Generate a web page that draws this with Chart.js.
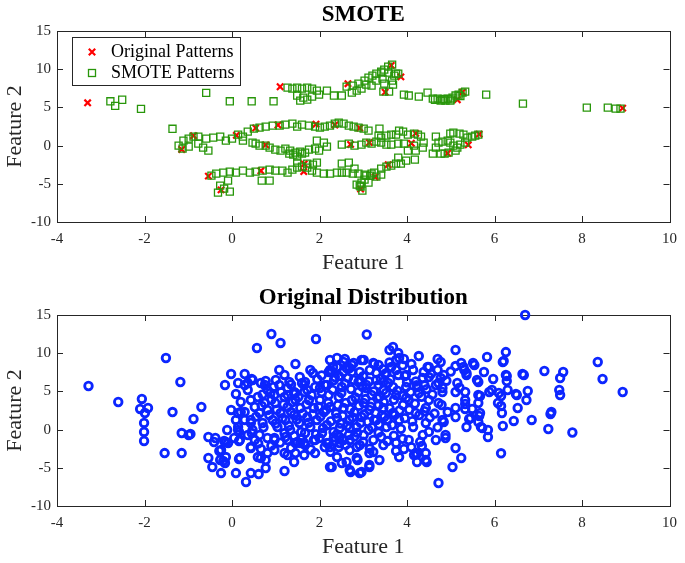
<!DOCTYPE html>
<html>
<head>
<meta charset="utf-8">
<script src="https://cdn.jsdelivr.net/npm/chart.js@4.4.0/dist/chart.umd.min.js"></script>
<style>
  html, body { margin: 0; padding: 0; background: #fff; }
  #wrap { position: relative; width: 685px; height: 563px; }
  canvas { position: absolute; left: 0; }
  #smoteChart { top: 0; }
  #origChart { top: 282px; }
</style>
</head>
<body>
<div id="wrap">
  <canvas id="smoteChart" width="685" height="282"></canvas>
  <canvas id="origChart" width="685" height="281"></canvas>
</div>
<script>
// tick labels (same for both plots)
const xTicks = [-4, -2, 0, 2, 4, 6, 8, 10];
const yTicks = [-10, -5, 0, 5, 10, 15];

// top plot: original minority samples
const originalPatterns = [
  [-3.3,5.6],[1.1,7.7],[2.65,8.1],[3.64,10.5],[3.86,9.0],[3.5,7.0],[5.27,7.0],[5.15,6.0],[8.93,4.9],
  [-1.15,-0.5],[-0.88,1.3],[0.1,1.35],[0.54,2.3],[1.05,2.7],[1.92,2.8],[2.35,2.7],[2.92,2.3],[0.77,0.1],
  [2.71,0.15],[3.14,0.4],[4.2,1.6],[4.1,0.3],[4.93,-1.0],[5.4,0.1],[5.65,1.5],
  [-0.54,-4.0],[-0.25,-5.8],[0.66,-3.3],[1.64,-3.4],[1.65,-2.4],[3.57,-2.5],[3.27,-4.1],[2.94,-5.7]
];

// top plot: synthetic samples
const smotePatterns = [
  [-2.78,5.8],[-2.67,5.2],[-2.51,6.0],[-2.08,4.8],[-0.59,6.9],[-0.05,5.8],[0.45,5.8],[0.95,5.8],[-1.36,2.2],
  [1.27,7.59],[1.38,7.46],[1.49,7.59],[1.6,7.46],[1.72,7.59],[1.83,7.46],[1.94,7.2],[1.49,6.55],[1.63,6.28],
  [1.72,6.02],[1.83,6.41],[1.56,5.89],[1.99,6.68],[2.17,7.2],[2.33,6.55],[2.51,6.55],[2.62,7.72],[2.76,7.85],
  [2.89,8.12],[3.03,8.51],[3.12,8.9],[3.21,9.16],[3.3,9.42],[3.41,9.69],[3.48,9.95],[3.57,10.34],[3.66,10.6],
  [3.57,9.55],[3.71,9.16],[3.8,9.42],[3.66,8.51],[3.44,8.77],[3.3,8.51],[3.19,7.85],[3.07,7.98],[2.96,7.46],
  [2.85,7.2],[2.74,6.94],[3.41,9.55],[3.75,9.42],[3.48,8.12],[3.68,7.98],[3.46,7.07],[3.59,7.07],[3.93,6.68],
  [4.04,6.55],[4.27,6.41],[4.47,6.94],[4.59,6.15],[4.7,6.15],[4.81,6.02],[4.93,6.15],[5.04,6.28],[5.11,6.55],
  [5.18,6.68],[5.27,6.94],[5.33,7.07],[4.88,5.89],[4.99,5.89],[4.77,5.89],[5.81,6.68],[6.65,5.5],[8.11,4.97],
  [8.59,4.97],[8.77,4.84],[8.88,4.84],[4.64,6.0],[4.84,6.1],[5.0,6.05],[5.22,6.5],
  [0.36,1.83],[0.5,2.23],[0.63,2.36],[0.77,2.49],[0.93,2.62],[1.09,2.62],[1.22,2.75],[1.38,2.88],[1.49,2.49],
  [1.6,2.75],[1.76,2.62],[1.9,2.49],[2.01,2.36],[2.12,2.49],[2.24,2.62],[2.35,2.88],[2.44,3.01],[2.55,2.88],
  [2.67,2.62],[2.78,2.49],[2.89,2.36],[3.01,2.23],[3.12,1.96],[0.14,1.44],[0.25,1.18],[0,0.92],[-0.14,0.65],
  [-0.27,1.18],[-0.43,1.05],[-0.59,0.92],[-0.77,1.18],[-0.88,1.18],[-0.99,0.92],[-1.11,0.65],[-1.22,0],
  [-1.13,-0.39],[-0.99,-0.13],[-0.77,0.26],[-0.66,-0.26],[-0.54,-0.65],[0.25,0.65],[0.47,0.39],
  [0.54,0.26],[0.63,0],[0.77,0],[0.86,-0.26],[0.99,-0.52],[1.11,-0.65],[1.22,-0.39],[1.33,-0.65],[1.45,-0.92],
  [1.56,-0.79],[1.6,-1.05],[1.67,-0.92],[1.76,-0.52],[1.9,-0.39],[1.99,-0.65],[2.17,-0.13],[1.94,0.65],
  [2.1,0.39],[2.51,0.13],[2.67,0.26],[2.8,0],[2.96,0.13],[3.07,0.39],[3.19,0.26],[3.3,0.52],[3.41,0.39],
  [1.4,-1.18],[1.49,-1.44],[1.31,-1.05],
  [3.37,2.23],[3.35,1.31],[3.41,1.05],[3.53,1.31],[3.64,1.44],[3.75,1.44],[3.82,1.96],[3.91,1.83],[4.02,1.44],
  [4.16,1.57],[4.25,1.44],[4.32,1.18],[4.38,0.39],[4.36,-0.26],[4.2,-0.65],[4.16,0],[3.93,0.26],[3.8,0.26],
  [3.64,0.13],[3.53,0.13],[4.66,1.18],[4.72,0.39],[4.81,0.52],[4.93,0.65],[4.99,0.39],[5.06,0],[4.99,1.57],
  [5.06,1.7],[5.2,1.57],[5.29,1.44],[5.38,1.05],[5.49,1.18],[5.56,1.31],[5.63,1.44],[5.33,0.39],[5.22,0.13],
  [5.15,-0.26],[4.66,-0.26],[4.59,-1.05],[4.77,-1.05],[4.86,-1.05],[4.95,-0.92],[5.11,-0.65],[4.02,-0.65],
  [-0.47,-3.93],[-0.36,-3.67],[-0.2,-3.53],[-0.05,-3.4],[0.09,-3.53],[0.25,-3.27],[0.41,-3.53],[0.54,-3.4],
  [0.7,-3.27],[0.86,-3.14],[0.99,-3.27],[1.15,-3.27],[1.27,-3.53],[1.38,-3.14],[1.49,-2.88],[1.6,-2.75],
  [1.72,-2.88],[1.83,-3.27],[1.94,-3.53],[2.1,-3.67],[2.24,-3.67],[2.4,-3.53],[2.51,-3.53],[2.62,-3.53],
  [2.76,-3.67],[2.89,-3.67],[3.03,-3.8],[3.16,-3.93],[3.3,-4.06],[3.41,-3.8],[3.12,-4.84],[3.03,-4.45],
  [2.8,-3.01],[2.67,-2.23],[2.51,-2.36],[1.94,-2.23],[1.85,-2.49],[1.72,-2.36],[1.49,-2.23],[0.86,-4.58],
  [0.68,-4.58],[-0.09,-4.58],[-0.27,-5.24],[-0.18,-5.63],[-0.05,-6.02],[-0.32,-6.15],[2.94,-5.37],[2.98,-5.89],
  [2.85,-5.11],[2.92,-5.24],[2.96,-4.84],[3.07,-3.93],[3.19,-3.67],[3.25,-3.53],[3.41,-3.01],[3.53,-2.75],
  [3.64,-2.62],[3.75,-2.36],[3.86,-2.36],[3.98,-1.96],[3.8,-1.57],[4.18,-1.83]
];

// bottom plot: original distribution
const originalDistribution = [
  [-3.28,5.71],[-2.6,3.61],[-2.06,4.01],[-2.1,2.7],[-1.92,2.83],[-1.51,9.37],[-1.18,6.23],[-1.36,2.3],
  [-0.7,2.96],[-0.16,5.84],[-0.02,7.28],[0.09,4.66],[0.29,7.28],[0.45,6.62],[0.57,10.68],[0.9,12.51],
  [1.11,11.34],[0.77,6.36],[0.95,5.58],[1.08,7.8],[1.2,7.15],[1.31,6.23],[1.45,8.59],[1.42,4.66],[1.85,7.41],
  [1.92,11.86],[2.4,9.37],[2.58,9.24],[2.31,8.19],[3.08,12.45],[2.69,8.06],[2.96,9.11],
  [0.47,6.49],[2.21,7.54],[2.74,8.46],[3.25,8.59],[-0.88,1.39],[-0.95,-0.58],[-0.54,-0.97],[-0.38,-1.1],
  [-0.25,-2.67],[-0.54,-3.72],[-0.45,-4.9],[-0.25,-5.69],[-0.16,-4.37],[-0.27,-3.98],[0.09,-5.69],[0.32,-6.86],
  [0.43,-5.69],[0.61,-5.82],[0.77,-5.03],[1.2,-5.42],[0.18,-3.72],[-0.11,-0.05],[0.09,1.26],[0.14,-0.05],
  [0.05,-1.1],[0.18,-1.36],[-0.18,-1.49],[-0.09,-1.75],[0.43,-2.28],[0.59,-3.59],[0.81,-3.07],[1.27,-3.33],
  [1.45,-3.07],[1.65,-3.33],[1.9,-3.07],[2.12,-2.28],[2.24,-4.9],[2.51,-4.37],[2.69,-5.29],[2.92,-5.69],
  [3.14,-4.64],[3.37,-3.98],[2.87,-3.98],[2.69,-2.67],[2.44,-2.28],[0.43,1.26],[0.47,-0.05],[0.81,-1.1],
  [0.97,-2.67],[1.22,-0.97],[1.49,-1.62],[1.67,-2.02],[2.33,-1.49],[2.69,0.21],[3.01,-0.71],[3.23,-2.93],
  [3.6,10.42],[3.8,10.02],[3.93,9.24],[4.27,9.63],[5.11,10.42],[4.7,9.24],[4.77,8.85],[4.5,8.19],[5.24,8.72],
  [5.51,8.72],[5.83,9.5],[6.26,10.15],[6.19,8.85],[5.76,7.54],[6.26,7.15],[6.64,7.28],[7.14,7.67],[7.57,7.54],
  [7.5,6.75],[7.48,5.18],[7.5,4.53],[7.28,2.04],[7.23,0.08],[7.78,-0.38],[6.85,1.26],[6.73,3.87],[6.76,5.05],
  [6.53,2.83],[6.44,1.13],[6.51,4.53],[6.3,5.18],[6.15,4.4],[6.15,3.09],[6.08,3.48],[6.17,2.17],[6.19,0.47],
  [6.15,-3.1],[5.97,6.62],[5.94,5.18],[5.67,4.4],[5.6,6.49],[5.65,1.78],[5.72,0.21],[5.85,-0.97],[5.63,4.53],
  [5.36,0.34],[5.42,1.39],[5.31,7.8],[5.36,7.41],[5.15,6.1],[5.11,-2.41],[5.24,-3.72],[5.04,-4.9],[4.72,-6.99],
  [5.63,3.48],[5.49,2.7],[5.33,3.35],
  [4.34,-2.15],[4.43,-3.07],[4.23,-3.2],[4.45,-4.24],[4.23,-4.24],[4.16,-3.33],[3.93,-2.54],[3.75,-2.8],
  [3.82,-3.59],[3.14,-3.07],[3.14,-4.9],[2.96,-5.55],[2.85,-3.72],[4.88,-1.1],[4.84,1.0],[4.93,2.3],[4.79,3.22],
  [5.33,2.7],[5.45,1.52],[5.69,0.34],[5.63,1.0],
  [6.7,15.0],[3.68,10.81],[3.82,9.37],[5.54,8.46],[6.21,8.98],[6.67,7.15],[8.36,8.85],[8.47,6.62],[8.93,4.92],
  [7.3,2.3],[6.28,7.02],[6.28,6.36],[6.1,4.79],[6.49,4.66],[5.88,4.92],[5.63,6.23],[5.11,4.92],[5.36,7.15],
  [5.29,8.19],[4.7,7.8],[4.77,6.75],[5.11,8.32],[4.47,8.19],[4.38,7.54],[4.5,6.88],[4.66,5.84],[4.81,5.45],
  [3.98,7.15],[3.64,8.19],[3.01,9.11],[3.3,7.41],[3.5,7.28],[3.75,7.8],[3.8,7.15],[3.95,7.02],[4.25,5.58],
  [2.92,6.49],[3.07,5.45],[3.35,5.84],[3.57,6.1],[3.98,4.14],[4.72,6.1],
  [-2.01,0.87],[-2.01,-0.31],[-2.01,-1.49],[-1.99,2.17],[-1.15,-0.45],[-0.99,-0.71],[-1.54,-3.07],[-1.15,-3.07],
  [-0.41,-1.62],[-0.14,-1.62],[0.16,-0.31],[0.16,-1.49],[-0.29,-2.8],[-0.2,-4.11],[-0.14,-3.59],[0.16,-3.85],
  [0.43,-2.41],[0.66,-3.72],[0.77,-3.98],[1.2,-3.07],[1.42,-4.24],[1.45,-1.75],[2.28,-4.9],[2.24,-2.28],
  [2.4,-3.59],[2.46,-1.75],[2.71,-5.55],[2.62,-4.24],[0.43,0.87],[0.45,-0.45],[0.52,-1.36],[0.66,-2.54],
  [0.97,-1.36],[1.2,-0.45],[1.42,-0.84],[1.65,-1.75],[1.9,-1.36],[2.21,-1.75],[2.46,-0.97],[2.69,-1.36],
  [2.85,-2.28],[0.14,2.17],[0.29,2.3],
  [0.2,2.3],[0.29,1.26],[0.43,3.87],[0.52,2.96],[0.59,4.27],[0.63,2.17],[0.7,0.87],[0.75,3.48],[0.81,2.57],
  [0.88,4.79],[0.93,1.26],[0.99,3.48],[1.04,0.34],[1.11,2.17],[1.2,4.27],[1.22,1.26],[1.27,2.96],[1.33,-0.05],
  [1.42,1.91],[1.45,3.87],[1.54,0.87],[1.56,2.83],[1.6,6.1],[1.65,4.92],[1.67,-0.45],[1.72,1.65],[1.76,3.87],
  [1.79,0.34],[1.87,2.83],[1.9,5.58],[1.94,1.26],[2.01,3.87],[2.06,-0.45],[2.1,2.3],[2.12,5.84],[2.17,0.6],
  [2.21,4.53],[2.24,2.96],[2.33,-0.97],[2.35,6.88],[2.4,1.52],[2.44,4.27],[2.46,0.21],[2.51,5.58],[2.55,2.83],
  [2.62,8.06],[2.67,-0.71],[2.69,1.26],[2.74,3.87],[2.78,6.49],[2.8,2.3],[2.85,0.34],[2.89,4.92],[2.92,7.54],
  [2.96,1.65],[3.01,3.48],[3.07,5.84],[3.12,-0.05],[3.14,2.57],[3.19,4.53],[3.25,1.26],[3.3,6.49],[3.35,3.22],
  [3.41,-0.97],[3.46,5.18],[3.48,1.65],[3.35,8.46],[3.23,8.72],[2.24,9.11],[2.55,8.85],[2.78,8.72],[2.28,7.54],
  [1.67,6.23],[1.79,7.8],[0.36,6.1],[0.81,5.18],[1.08,5.84],[1.27,5.45],[1.42,4.92],[0.36,-0.71],[0.63,-0.71],
  [0.97,-1.1],[1.27,-1.36],[1.56,-1.75],[1.87,-1.36],[2.17,-1.75],[2.55,-1.36],[2.92,-2.02],[3.23,-1.36],
  [3.46,-2.02],[0.14,0.34],[-0.02,2.57],[0.2,3.61],
  [3.75,9.11],[3.53,7.41],[4.14,7.8],[3.46,6.23],[3.68,5.58],[3.98,5.58],[4.36,6.75],[4.84,7.15],[3.37,4.27],
  [3.75,4.53],[4.04,3.87],[4.27,4.79],[4.5,3.87],[4.81,4.92],[5.33,4.92],[3.46,2.83],[3.68,2.17],[3.91,3.22],
  [4.2,2.17],[4.43,2.83],[4.72,3.48],[5.11,2.83],[5.33,3.87],[3.3,1.26],[3.53,0.34],[3.82,1.26],[4.14,0.34],
  [4.43,0.87],[4.81,1.26],[5.11,1.65],[3.75,-1.75],[4.04,-1.36],[4.36,-0.71],[4.66,-1.36],[4.88,-0.71],
  [4.2,-3.07],[4.43,-3.98],[5.67,2.17],[5.85,-0.05],
  [0.14,6.1],[0.29,5.84],[0.36,5.18],[0.66,6.1],[0.75,5.84],[0.97,4.53],[1.27,4.53],[1.45,4.79],[1.65,5.84],
  [1.72,5.18],[2.01,5.45],[2.17,5.84],[2.33,6.49],[2.4,8.19],[2.24,7.8],[2.55,7.54],[2.74,7.54],[2.89,6.23],
  // dense core
  [0.55,1.7],[0.68,3.1],[0.72,0.3],[0.85,1.9],[0.9,3.9],[1.0,0.8],[1.02,2.6],[1.12,4.9],[1.15,1.5],[1.18,3.3],
  [1.3,0.5],[1.35,2.3],[1.38,3.6],[1.48,1.3],[1.52,4.3],[1.58,-0.3],[1.62,2.1],[1.7,3.3],[1.75,0.9],[1.82,4.5],
  [1.85,2.0],[1.92,-0.6],[1.98,3.0],[2.02,1.7],[2.05,4.9],[2.08,0.2],[2.15,2.6],[2.2,3.5],[2.26,1.1],[2.3,5.2],
  [2.32,-0.3],[2.38,2.1],[2.42,3.2],[2.48,0.8],[2.5,4.8],[2.53,1.8],[2.58,6.0],[2.6,3.5],[2.63,0.5],[2.7,2.7],
  [2.72,5.3],[2.76,1.6],[2.82,4.2],[2.86,-0.4],[2.9,3.1],[2.94,0.9],[2.98,5.6],[3.02,2.0],[3.05,4.0],[3.1,1.0],
  [3.13,6.3],[3.17,3.0],[3.2,0.3],[3.24,5.0],[3.28,2.2],[3.32,4.1],[3.36,0.7],[3.4,6.7],[3.43,1.9],[3.47,3.6],
  [3.52,4.8],[3.55,1.2],[3.6,2.8],[3.62,6.6],[3.66,0.6],[3.7,3.9],[3.72,1.9],[3.78,5.1],[3.83,2.5],[3.86,0.1],
  [3.9,4.4],[3.95,1.5],[4.0,6.2],[4.05,2.6],[4.08,4.9],[4.12,1.1],[4.18,3.4],[4.22,5.8],[4.28,1.9],[4.33,4.3],
  [4.4,2.4],[4.45,5.3],[4.52,1.6],[4.58,4.6],[4.63,2.1],[4.7,0.3],
  [0.6,-1.8],[0.9,-2.1],[1.1,-1.7],[1.35,-2.4],[1.6,-1.2],[1.8,-2.6],[2.0,-1.1],[2.25,-2.9],[2.4,-0.6],[2.6,-2.0],
  [2.8,-0.9],[3.0,-1.6],[3.15,-2.5],[3.35,-0.4],[3.55,-1.5],[3.7,-0.8],[3.9,-1.2],[4.1,-2.3],[4.3,-1.6],[4.5,-0.3],
  [0.7,4.6],[1.0,6.5],[1.35,5.9],[1.55,6.9],[1.95,6.6],[2.05,7.1],[2.45,7.0],[2.65,6.8],[3.0,7.0],[3.15,7.8],
  [3.45,7.9],[3.6,8.8],[3.9,8.4],[4.1,8.6],[4.2,6.3],[4.4,5.8],[4.55,7.3],[4.9,6.4],[5.0,7.6],[5.2,5.5]
];

const serif = "'Liberation Serif', 'Times New Roman', serif";
const axisColor = '#262626';
const redColor = 'rgb(255,0,0)';
const greenColor = 'rgb(40,150,10)';
const blueColor = 'rgb(12,38,255)';
const tickLen = 6;

function toPoints(arr) {
  return arr.map(p => ({ x: p[0], y: p[1] }));
}

// small canvases used as legend symbols so they are not stretched
function legendIcon(kind) {
  const c = document.createElement('canvas');
  c.width = 14; c.height = 14;
  const g = c.getContext('2d');
  if (kind === 'x') {
    g.strokeStyle = redColor; g.lineWidth = 2.2;
    g.beginPath();
    g.moveTo(3.8, 3.8); g.lineTo(10.2, 10.2);
    g.moveTo(10.2, 3.8); g.lineTo(3.8, 10.2);
    g.stroke();
  } else {
    g.strokeStyle = greenColor; g.lineWidth = 1.3;
    g.strokeRect(3.5, 3.5, 7, 7);
  }
  return c;
}
const legendIcons = [legendIcon('x'), legendIcon('sq')];

// matlab style box: frame, inward ticks, title centred on axes, framed legend
const matlabAxes = {
  id: 'matlabAxes',
  afterLayout(chart) {
    const a = chart.chartArea;
    if (chart.titleBlock) {
      chart.titleBlock.left = a.left;
      chart.titleBlock.right = a.right;
      chart.titleBlock.width = a.right - a.left;
    }
    const lg = chart.legend;
    if (lg && lg.options.display) {
      const w = lg.width, h = lg.height;
      lg.left = a.left + 22; lg.right = lg.left + w;
      lg.top = a.top + 9; lg.bottom = lg.top + h;
    }
  },
  beforeDatasetsDraw(chart) {
    const { ctx, chartArea: a, scales: { x, y } } = chart;
    ctx.save();
    ctx.strokeStyle = axisColor;
    ctx.lineWidth = 1;
    ctx.strokeRect(Math.round(a.left) + 0.5, Math.round(a.top) + 0.5,
      Math.round(a.right - a.left), Math.round(a.bottom - a.top));
    ctx.beginPath();
    x.ticks.forEach(t => {
      const px = Math.round(x.getPixelForValue(t.value)) + 0.5;
      ctx.moveTo(px, a.bottom); ctx.lineTo(px, a.bottom - tickLen);
      ctx.moveTo(px, a.top); ctx.lineTo(px, a.top + tickLen);
    });
    y.ticks.forEach(t => {
      const py = Math.round(y.getPixelForValue(t.value)) + 0.5;
      ctx.moveTo(a.left, py); ctx.lineTo(a.left + tickLen, py);
      ctx.moveTo(a.right, py); ctx.lineTo(a.right - tickLen, py);
    });
    ctx.stroke();
    ctx.restore();
  },
  afterDraw(chart) {
    const lg = chart.legend;
    if (!lg || !lg.options.display) return;
    const ctx = chart.ctx;
    const pad = lg.options.labels.padding;
    const fontSize = lg.options.labels.font.size;
    ctx.save();
    ctx.font = fontSize + 'px ' + serif;
    const textW = Math.max(...lg.legendItems.map(i => ctx.measureText(i.text).width));
    const itemX = lg.left + pad;
    const itemY = lg.top + pad;
    const n = lg.legendItems.length;
    const x0 = Math.round(itemX - 10) + 0.5;
    const y0 = Math.round(itemY - 6) + 0.5;
    const w = Math.round(10 + lg.options.labels.pointStyleWidth + fontSize / 2 + textW + 6);
    const h = (fontSize + pad) * n + 6;
    ctx.strokeStyle = axisColor;
    ctx.lineWidth = 1;
    ctx.strokeRect(x0, y0, w, h);
    ctx.restore();
  }
};

function makeChart(canvasId, titleText, datasets, showLegend, xAxisHeight, xTitlePad, titlePad) {
  const ctx = document.getElementById(canvasId).getContext('2d');
  return new Chart(ctx, {
    type: 'scatter',
    data: { datasets },
    options: {
      responsive: false,
      animation: false,
      events: [],
      layout: { padding: { left: 0, right: 9, top: 0, bottom: 0 } },
      scales: {
        x: {
          type: 'linear',
          min: xTicks[0],
          max: xTicks[xTicks.length - 1],
          afterBuildTicks: s => { s.ticks = xTicks.map(v => ({ value: v })); },
          grid: { display: false, drawTicks: false },
          border: { display: false },
          ticks: { color: axisColor, padding: 8, font: { family: serif, size: 15 } },
          title: { display: true, text: 'Feature 1', color: axisColor,
                   font: { family: serif, size: 22 }, padding: { top: 0, bottom: xTitlePad } },
          afterFit: s => { s.height = xAxisHeight; }
        },
        y: {
          type: 'linear',
          min: yTicks[0],
          max: yTicks[yTicks.length - 1],
          afterBuildTicks: s => { s.ticks = yTicks.map(v => ({ value: v })); },
          grid: { display: false, drawTicks: false },
          border: { display: false },
          ticks: { color: axisColor, padding: 6, font: { family: serif, size: 15 } },
          title: { display: true, text: 'Feature 2', color: axisColor,
                   font: { family: serif, size: 22 }, padding: { top: 2, bottom: 0 } },
          afterFit: s => { s.width = 57; }
        }
      },
      plugins: {
        title: {
          display: true,
          text: titleText,
          color: '#000',
          font: { family: serif, size: 23, weight: 'bold', lineHeight: 1.2 },
          padding: titlePad
        },
        legend: {
          display: showLegend,
          position: 'chartArea',
          align: 'start',
          labels: {
            usePointStyle: true,
            pointStyleWidth: 20,
            boxHeight: 18,
            padding: 3,
            color: '#000',
            font: { family: serif, size: 18 },
            generateLabels(chart) {
              const items = Chart.defaults.plugins.legend.labels.generateLabels(chart);
              items.sort((a, b) => a.datasetIndex - b.datasetIndex);
              items.forEach(it => { it.pointStyle = legendIcons[it.datasetIndex]; });
              return items;
            }
          }
        },
        tooltip: { enabled: false }
      }
    },
    plugins: [matlabAxes]
  });
}

makeChart('smoteChart', 'SMOTE', [
  {
    label: 'Original Patterns',
    data: toPoints(originalPatterns),
    pointStyle: 'crossRot',
    pointRadius: 4.5,
    borderWidth: 2.2,
    borderColor: redColor,
    backgroundColor: redColor,
    order: 1,
    clip: false
  },
  {
    label: 'SMOTE Patterns',
    data: toPoints(smotePatterns),
    pointStyle: 'rect',
    pointRadius: 5,
    borderWidth: 1.3,
    borderColor: greenColor,
    backgroundColor: 'rgba(0,0,0,0)',
    order: 0,
    clip: false
  }
], true, 60, 6, { top: 1, bottom: 2.4 });

makeChart('origChart', 'Original Distribution', [
  {
    label: 'Original Distribution',
    data: toPoints(originalDistribution),
    pointStyle: 'circle',
    pointRadius: 3.8,
    borderWidth: 2.8,
    borderColor: blueColor,
    backgroundColor: 'rgba(0,0,0,0)',
    clip: false
  }
], false, 57, 3, { top: 2, bottom: 3.4 });
</script>
</body>
</html>
